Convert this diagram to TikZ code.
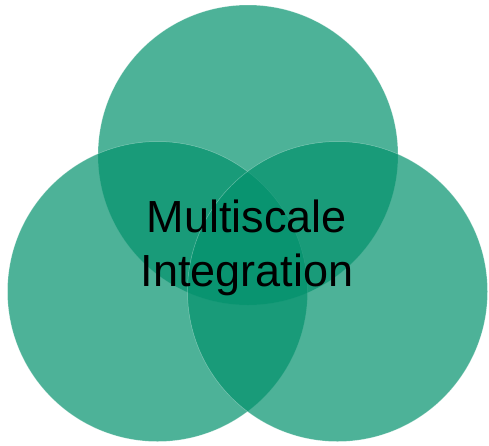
\documentclass[tikz,border=0pt]{standalone}
\usepackage{fontspec}
\setmainfont{Liberation Sans}
\definecolor{venn}{RGB}{2,145,108}
\begin{document}
\begin{tikzpicture}[x=1pt,y=-1pt,
  disc/.style={fill=venn,fill opacity=0.7,draw=white,draw opacity=0.35,line width=0.5pt},
  lbl/.style={font=\fontsize{45}{54}\selectfont,text=black,align=center,inner sep=0pt}]
\useasboundingbox (0,0) rectangle (489,445);
\path[disc] (248,155) circle (150);
\path[disc] (157.5,291.5) circle (150);
\path[disc] (337.5,291.5) circle (150);
\node[lbl,anchor=base] (t1) at (247,232) {Multiscale};
\node[lbl,anchor=base] (t2) at (247,286) {Integration};
\end{tikzpicture}
\end{document}
